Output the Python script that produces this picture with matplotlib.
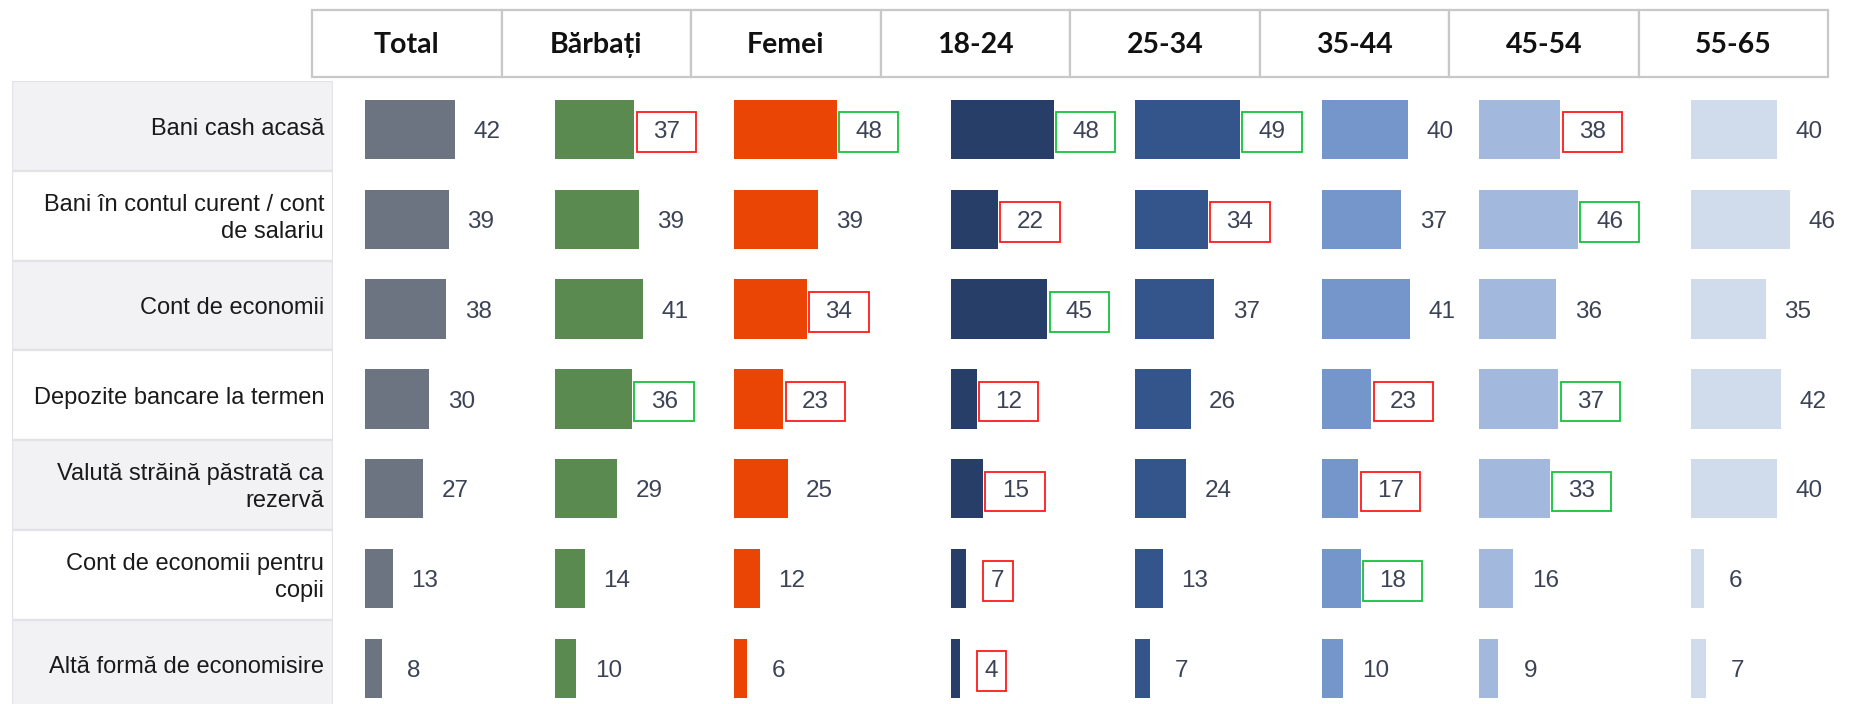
import matplotlib
matplotlib.use("Agg")
import matplotlib.pyplot as plt
from matplotlib.patches import Rectangle
from matplotlib.path import Path

# ---------------- data ----------------
categories = [
    "Bani cash acasă",
    "Bani în contul curent / cont\nde salariu",
    "Cont de economii",
    "Depozite bancare la termen",
    "Valută străină păstrată ca\nrezervă",
    "Cont de economii pentru\ncopii",
    "Altă formă de economisire",
]
groups = ["Total", "Bărbați", "Femei", "18-24", "25-34", "35-44", "45-54", "55-65"]

total = [42, 39, 38, 30, 27, 13, 8]
barbati = [37, 39, 41, 36, 29, 14, 10]
femei = [48, 39, 34, 23, 25, 12, 6]
age_18_24 = [48, 22, 45, 12, 15, 7, 4]
age_25_34 = [49, 34, 37, 26, 24, 13, 7]
age_35_44 = [40, 37, 41, 23, 17, 18, 10]
age_45_54 = [38, 46, 36, 37, 33, 16, 9]
age_55_65 = [40, 46, 35, 42, 40, 6, 7]

# significance markers: "r" = significantly lower, "g" = significantly higher
hl_total = ["", "", "", "", "", "", ""]
hl_barbati = ["r", "", "", "g", "", "", ""]
hl_femei = ["g", "", "r", "r", "", "", ""]
hl_18_24 = ["g", "r", "g", "r", "r", "r", "r"]
hl_25_34 = ["g", "r", "", "", "", "", ""]
hl_35_44 = ["", "", "", "r", "r", "g", ""]
hl_45_54 = ["r", "g", "", "g", "g", "", ""]
hl_55_65 = ["", "", "", "", "", "", ""]

series = [total, barbati, femei, age_18_24, age_25_34, age_35_44, age_45_54, age_55_65]
highlights = [hl_total, hl_barbati, hl_femei, hl_18_24, hl_25_34, hl_35_44, hl_45_54, hl_55_65]

# ---------------- style / layout ----------------
colors = ["#6C7482", "#5A8A4F", "#EA4504", "#273F68", "#34558B", "#7496CB", "#A3B8DD", "#D0DBEC"]
box_colors = {"r": "#FF1A1A", "g": "#16C23C"}
value_color = "#3C4356"

W, H = 1866, 704
plt.rcParams["font.family"] = ["Liberation Sans", "DejaVu Sans"]

fig = plt.figure(figsize=(W / 100, H / 100), dpi=100)

header_left, header_right = 312, 1828
header_top, header_bottom = 9.5, 77
col_w = (header_right - header_left) / len(groups)
rows_top = 81
row_h = 89.8
px_per_unit = 2.142
bar_start_px = [53, 53.5, 43, 70.5, 65, 62.5, 30, 52.5]
label_gap_px = 32

n = len(categories)
y_bottom = -0.5 + (H - rows_top) / row_h
area_h = (H - rows_top) / H

# ---------- header ----------
hax = fig.add_axes([header_left / W, 1 - header_bottom / H,
                    (header_right - header_left) / W, (header_bottom - header_top) / H])
hax.set_xlim(0, len(groups))
hax.set_ylim(0, 1)
hax.axis("off")
for c, g in enumerate(groups):
    hax.add_patch(Rectangle((c, 0), 1, 1, facecolor="white", edgecolor="#C8C8C8",
                            linewidth=1.6, clip_on=False))
    hax.text(c + 0.5, 0.47, g, ha="center", va="center", fontsize=20.5,
             fontweight="bold", family=["Lato", "DejaVu Sans"], color="#111111")

# ---------- row labels ----------
lax = fig.add_axes([12 / W, 0, (333 - 12) / W, area_h])
lax.set_xlim(0, 1)
lax.set_ylim(y_bottom, -0.5)
lax.axis("off")
for i, cat in enumerate(categories):
    fc = "#F2F2F4" if i % 2 == 0 else "white"
    lax.add_patch(Rectangle((0, i - 0.5), 1, 1, facecolor=fc, edgecolor="#E3E3E7",
                            linewidth=1.6))
    lax.text(0.972, i + 0.03, cat, ha="right", va="center", fontsize=17,
             color="#1A1A1A", linespacing=1.3)


# ---------- custom box for significance labels ----------
def sig_box(x0, y0, width, height, mutation_size):
    px = 0.6 * width
    py = 0.4 * height
    xa, ya = x0 - px, y0 - py
    xb, yb = x0 + width + px, y0 + height + py
    return Path([(xa, ya), (xb, ya), (xb, yb), (xa, yb), (xa, ya)], closed=True)


# ---------- bar columns ----------
for c, (vals, hls) in enumerate(zip(series, highlights)):
    left_px = header_left + c * col_w
    ax = fig.add_axes([left_px / W, 0, col_w / W, area_h])
    x0 = -bar_start_px[c] / px_per_unit
    ax.set_xlim(x0, x0 + col_w / px_per_unit)
    ax.set_ylim(y_bottom, -0.5)
    ax.axis("off")
    ypos = [i + 0.04 for i in range(n)]
    ax.barh(ypos, vals, height=0.66, color=colors[c], left=0)
    for i, (v, h) in enumerate(zip(vals, hls)):
        kw = {}
        if h:
            kw["bbox"] = dict(boxstyle=sig_box, facecolor="white",
                              edgecolor=box_colors[h], linewidth=1.3)
        ax.text(v + label_gap_px / px_per_unit, ypos[i] + 0.03, str(v), ha="center",
                va="center", fontsize=17.5, color=value_color, clip_on=False, **kw)

fig.savefig("out.png", dpi=100, facecolor="white")
